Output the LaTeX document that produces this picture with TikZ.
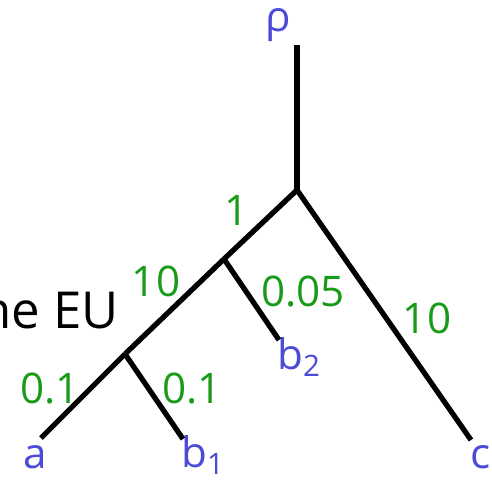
\documentclass[tikz,border=0pt]{standalone}
\usepackage{fontspec}
\setmainfont{Open Sans}
\usetikzlibrary{
    positioning % posicionamento relativo
}
\definecolor{leafblue}{RGB}{75,75,215}
\definecolor{lengreen}{RGB}{25,155,25}

\begin{document}
\begin{tikzpicture}[
    x=0.02cm, y=-0.02cm,
    font=\fontsize{24}{28}\selectfont,
    branch/.style={
        line width=3pt,
        draw=black
    },
    leaf/.style={
        text=leafblue,
        inner sep=0pt
    },
    weight/.style={
        text=lengreen,
        inner sep=1pt
    },
    caption/.style={
        text=black,
        inner sep=0pt,
        font=\fontsize{29}{33}\selectfont
    }
]
\useasboundingbox (0,0) rectangle (492,481);

% Internal vertices
\coordinate (root) at (297,45);
\coordinate (top) at (297,190);
\coordinate (ab) at (224,259);
\coordinate (abone) at (125,354);

% Leaf ends
\coordinate (aend) at (41,438);
\coordinate (bone) at (183,439);
\coordinate (btwo) at (279,340);
\coordinate (cend) at (471,440);

% Leaf labels
\node[leaf] (rho) at (278,25) {ρ};
\node[leaf] (a) at (35,457) {a};
\node[leaf] (b1) at (203,455) {b\textsubscript{1}};
\node[leaf] (b2) at (299,357) {b\textsubscript{2}};
\node[leaf] (c) at (481,457) {c};

% Branch lengths
\node[weight] (w1) at (237,210) {1};
\node[weight] (w10a) at (156,281) {10};
\node[weight] (w005) at (303,291) {0.05};
\node[weight] (w10c) at (427,318) {10};
\node[weight] (w01a) at (50,388) {0.1};
\node[weight] (w01b) at (192,388) {0.1};

% Cut-off caption
\node[caption, anchor=east] (eu) at (119,311) {ne EU};

% Branches
\draw[branch] (root) -- (top);
\draw[branch] (top) -- (ab);
\draw[branch] (ab) -- (abone);
\draw[branch] (abone) -- (aend);
\draw[branch] (abone) -- (bone);
\draw[branch] (ab) -- (btwo);
\draw[branch] (top) -- (cend);

\end{tikzpicture}
\end{document}
